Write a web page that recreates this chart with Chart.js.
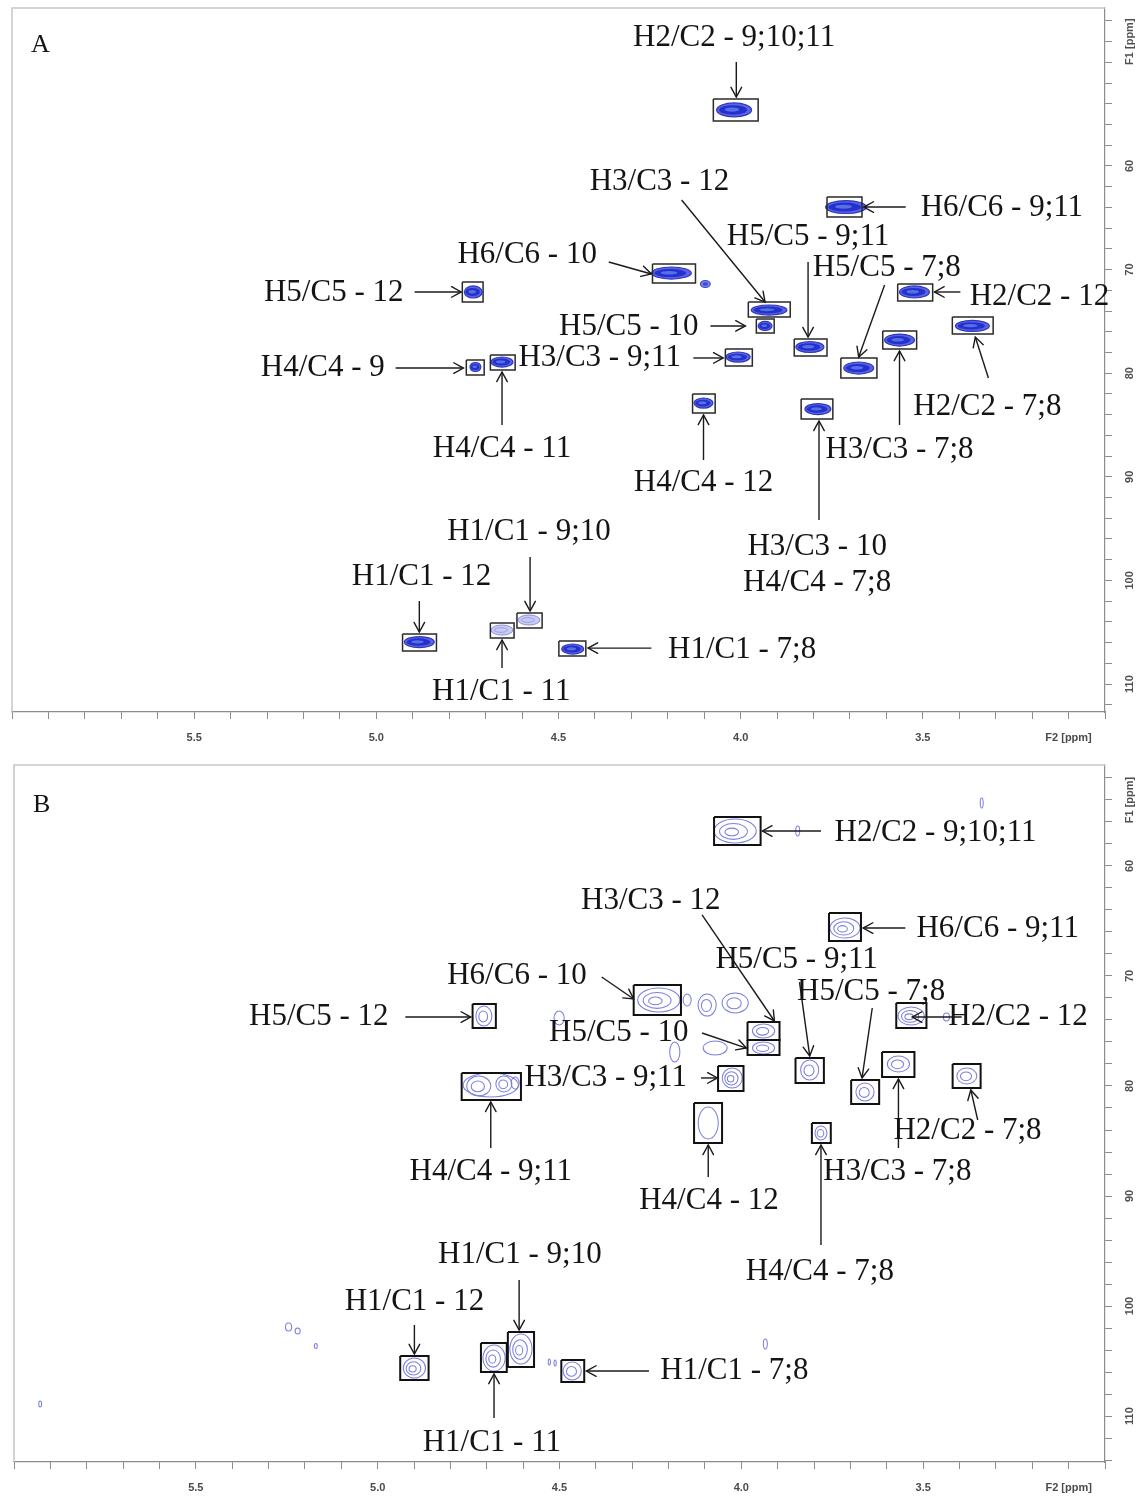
<!DOCTYPE html>
<html><head><meta charset="utf-8">
<script src="https://cdn.jsdelivr.net/npm/chart.js@4.4.1/dist/chart.umd.min.js"></script>
<style>
html,body{margin:0;padding:0;background:#fff;}
#wrap{position:relative;width:1144px;height:1506px;overflow:hidden;}
.panel{position:absolute;left:0;width:1144px;}
#pA{top:0;height:755px;}
#pB{top:755px;height:751px;}
</style></head><body>
<div id="wrap">
<div class="panel" id="pA"><canvas id="cA"></canvas></div>
<div class="panel" id="pB"><canvas id="cB"></canvas></div>
</div>
<script>
// ---------------- axis / tick data ----------------
const X_RANGE = [3.0, 6.0];
const X_TICK_VALUES = [5.5, 5.0, 4.5, 4.0, 3.5];
const X_TICK_TEXT = ['5.5', '5.0', '4.5', '4.0', '3.5'];
const X_UNIT_TICK = 3.1, X_UNIT_TEXT = 'F2 [ppm]';
const Y_TICK_VALUES = [60, 70, 80, 90, 100, 110];
const Y_UNIT_TEXT = 'F1 [ppm]';
const Y_RANGE_A = [44.75, 112.70], Y_UNIT_TICK_A = 48;
const Y_RANGE_B = [50.82, 114.18], Y_UNIT_TICK_B = 54;

// ---------------- panel A (cross peaks: 1H ppm, 13C ppm, widths in ppm, intensity) ----------------
const peakH_A = [4.018,3.711,3.922,4.190,4.097,4.734,3.523,3.933,3.364,3.564,3.810,3.676,4.728,4.655,4.007,4.102,3.788,4.581,4.882,4.655,4.461];
const peakC_A = [54.59,63.96,73.90,70.33,71.39,72.16,72.16,75.44,75.44,76.80,77.47,79.50,79.40,78.92,78.44,82.88,83.46,103.82,105.95,104.79,106.62];
const peakDH_A = [0.096,0.112,0.098,0.109,0.027,0.049,0.082,0.038,0.093,0.082,0.077,0.082,0.030,0.060,0.066,0.052,0.071,0.060,0.082,0.060,0.060];
const peakDC_A = [1.35,1.25,0.97,1.16,0.68,1.16,1.16,0.87,1.06,1.16,1.06,1.16,0.87,0.97,0.97,0.97,1.06,0.97,1.06,0.97,0.97];
const peakI_A = [1,1,1,1,0.6,1,1,0.8,1,1,1,1,0.8,0.8,1,0.9,0.9,0.35,1,0.35,1];
// boxes: [H left, H right, C top, C bottom]
const boxA = [
[4.075,3.952,53.53,55.66],[3.763,3.667,62.99,64.92],[3.979,3.864,73.13,74.58],[4.242,4.124,69.46,71.29],
[4.764,4.707,71.20,73.13],[3.569,3.473,71.39,73.03],[3.957,3.908,74.77,76.12],[3.419,3.307,74.58,76.22],
[3.610,3.517,75.93,77.66],[3.853,3.763,76.70,78.34],[3.725,3.626,78.53,80.46],[4.753,4.704,78.73,80.17],
[4.687,4.619,78.24,79.69],[4.042,3.968,77.66,79.31],[4.132,4.070,82.01,83.84],[3.834,3.747,82.49,84.42],
[4.614,4.545,103.15,104.59],[4.928,4.835,105.17,106.81],[4.687,4.622,104.11,105.56],[4.499,4.425,105.85,107.30]];
const labelTextA = ['H2/C2 - 9;10;11','H6/C6 - 9;11','H3/C3 - 12','H5/C5 - 9;11','H6/C6 - 10','H5/C5 - 12','H5/C5 - 7;8','H2/C2 - 12','H5/C5 - 10','H2/C2 - 7;8','H3/C3 - 7;8','H4/C4 - 9','H4/C4 - 11','H3/C3 - 9;11','H4/C4 - 12','H3/C3 - 10','H4/C4 - 7;8','H1/C1 - 9;10','H1/C1 - 12','H1/C1 - 11','H1/C1 - 7;8'];
const labelPosA = [[4.018,47.64],[3.283,64.05],[4.223,61.54],[3.815,66.85],[4.586,68.59],[5.117,72.26],[3.599,69.85],[3.180,72.64],[4.307,75.54],[3.323,83.26],[3.564,87.41],[5.147,79.50],[4.655,87.32],[4.387,78.53],[4.102,90.60],[3.790,96.78],[3.790,100.25],[4.581,95.33],[4.876,99.67],[4.657,110.77],[3.996,106.72]];
// arrows: [H from, C from, H to, C to]
const arrowA = [
[4.012,49.96,4.012,53.34],[3.547,63.96,3.662,63.96],[4.162,63.28,3.933,73.13],[3.815,69.27,3.815,76.51],
[4.362,69.27,4.245,70.42],[4.895,72.16,4.767,72.16],[3.605,71.49,3.676,78.44],[3.397,72.16,3.468,72.16],
[4.083,75.44,3.987,75.44],[3.320,80.46,3.356,76.51],[3.564,85.00,3.564,77.86],[4.947,79.50,4.761,79.50],
[4.655,85.00,4.655,79.88],[4.130,78.53,4.048,78.53],[4.102,88.38,4.102,84.03],[3.785,94.17,3.785,84.61],
[4.578,97.74,4.578,102.95],[4.882,101.99,4.882,104.98],[4.655,108.46,4.655,105.75],[4.245,106.53,4.419,106.53]];

// ---------------- panel B (contour peaks: 1H ppm, 13C ppm, widths in ppm, contour levels) ----------------
const peakH_B = [4.017,3.715,4.227,4.708,3.533,3.939,3.939,4.025,4.689,4.722,4.653,4.622,3.812,3.660,3.568,3.380,4.091,3.781,4.606,4.899,4.680,4.465,
 3.845,3.339,4.149,4.094,4.017,4.501,4.183,4.072,5.245,5.220,5.170,4.528,4.512,5.928,3.934,3.436];
const peakC_B = [56.82,65.64,72.18,73.64,73.64,75.00,76.55,79.27,79.91,80.00,79.82,79.73,78.55,80.55,78.00,79.09,83.36,84.27,103.91,105.64,104.73,105.91,
 56.82,54.27,72.18,72.64,72.45,73.82,76.91,76.55,101.91,102.27,103.64,105.09,105.18,108.91,103.45,73.73];
const peakDH_B = [0.116,0.083,0.116,0.044,0.072,0.061,0.061,0.055,0.152,0.066,0.044,0.022,0.050,0.050,0.061,0.055,0.055,0.033,0.061,0.061,0.061,0.050,
 0.011,0.008,0.022,0.050,0.072,0.028,0.028,0.066,0.017,0.014,0.008,0.006,0.006,0.008,0.011,0.017];
const peakDC_B = [2.18,1.82,2.18,1.82,1.64,1.27,1.09,1.82,2.18,1.80,1.45,1.09,1.82,1.64,1.45,1.45,2.90,1.27,2.73,1.82,2.36,1.64,
 0.90,0.90,1.09,2.00,1.82,1.27,1.82,1.27,0.73,0.55,0.45,0.55,0.55,0.55,0.90,0.73];
const peakLv_B = [3,3,3,2,3,2,2,3,1,2,2,1,2,2,2,2,1,2,3,3,3,2, 1,1,1,2,2,1,1,1,1,1,1,1,1,1,1,1];
const boxB = [
[4.075,3.947,55.55,58.09],[3.759,3.671,64.27,66.82],[4.296,4.166,70.82,73.55],[4.739,4.675,72.55,74.73],
[3.574,3.491,72.45,74.73],[3.983,3.895,74.18,75.82],[3.983,3.895,75.82,77.18],[4.064,3.994,78.18,80.45],
[4.769,4.606,78.82,81.27],[3.851,3.773,77.45,79.73],[3.698,3.621,79.45,81.64],[3.613,3.524,76.91,79.18],
[3.419,3.342,78.00,80.18],[4.130,4.053,81.55,85.18],[3.806,3.754,83.36,85.18],[4.642,4.570,102.36,105.55],
[4.938,4.860,104.55,106.73],[4.716,4.645,103.36,106.00],[4.495,4.432,104.91,106.91]];
const labelTextB = ['H2/C2 - 9;10;11','H3/C3 - 12','H6/C6 - 9;11','H5/C5 - 9;11','H5/C5 - 7;8','H6/C6 - 10','H5/C5 - 12','H2/C2 - 12','H5/C5 - 10','H3/C3 - 9;11','H4/C4 - 9;11','H3/C3 - 7;8','H2/C2 - 7;8','H4/C4 - 12','H4/C4 - 7;8','H1/C1 - 9;10','H1/C1 - 12','H1/C1 - 11','H1/C1 - 7;8'];
const labelPosB = [[3.466,57.00],[4.249,63.18],[3.295,65.73],[3.848,68.55],[3.643,71.45],[4.617,70.00],[5.162,73.73],[3.239,73.73],[4.337,75.18],[4.373,79.27],[4.689,87.82],[3.571,87.82],[3.378,84.09],[4.089,90.45],[3.784,96.91],[4.609,95.36],[4.899,99.64],[4.686,112.45],[4.019,105.91]];
const arrowB = [
[3.781,56.82,3.942,56.82],[4.108,64.45,3.909,74.09],[3.549,65.64,3.665,65.64],[3.840,70.55,3.812,77.27],
[3.640,72.91,3.668,79.27],[4.384,70.09,4.296,72.09],[4.924,73.73,4.744,73.73],[3.394,73.73,3.530,73.73],
[4.108,75.18,3.986,76.55],[4.111,79.27,4.066,79.27],[4.689,85.64,4.689,81.45],[3.568,85.64,3.568,79.36],
[3.350,83.09,3.369,80.36],[4.091,88.27,4.091,85.36],[3.781,94.45,3.781,85.36],[4.611,97.64,4.611,102.18],
[4.899,101.73,4.899,104.36],[4.680,110.18,4.680,106.18],[4.254,105.91,4.426,105.91]];

// ---------------- drawing helpers ----------------
const SERIF = '"Liberation Serif", "Times New Roman", serif';
const SANS = '"Liberation Sans", Arial, sans-serif';

function ell(ctx, cx, cy, rx, ry) {
  ctx.beginPath(); ctx.ellipse(cx, cy, Math.max(rx, 0.6), Math.max(ry, 0.6), 0, 0, Math.PI * 2);
}

function buildPanel(canvasId, P) {
  const peakData = P.peakH.map((h, i) => ({x: h, y: P.peakC[i]}));
  const datasets = [{
    label: 'peaks', data: peakData, pointRadius: 0, pointHoverRadius: 0, showLine: false
  }];
  P.boxes.forEach(b => datasets.push({
    label: 'box', showLine: true, pointRadius: 0, borderColor: P.boxColor, borderWidth: P.boxWidth,
    borderJoinStyle: 'miter', tension: 0, fill: false, clip: false,
    data: [{x: b[0], y: b[2]}, {x: b[1], y: b[2]}, {x: b[1], y: b[3]}, {x: b[0], y: b[3]}, {x: b[0], y: b[2]}]
  }));
  P.arrows.forEach(a => datasets.push({
    label: 'arrow', showLine: true, pointRadius: 0, borderColor: '#1a1a1a', borderWidth: 1.4,
    tension: 0, fill: false, clip: false,
    data: [{x: a[0], y: a[1]}, {x: a[2], y: a[3]}]
  }));

  const overlay = {
    id: 'overlay' + canvasId,
    beforeDatasetsDraw(chart) {
      const ctx = chart.ctx, a = chart.chartArea, xs = chart.scales.x, ys = chart.scales.y;
      ctx.save();
      // frame (top / left)
      ctx.strokeStyle = '#c6c6c6'; ctx.lineWidth = 1.5;
      ctx.beginPath(); ctx.moveTo(a.left, a.bottom); ctx.lineTo(a.left, a.top); ctx.lineTo(a.right, a.top); ctx.stroke();
      // peaks
      ctx.beginPath(); ctx.rect(a.left, a.top, a.right - a.left, a.bottom - a.top); ctx.clip();
      const meta = chart.getDatasetMeta(0);
      meta.data.forEach((pt, i) => {
        const cx = pt.x, cy = pt.y;
        const rx = Math.abs(xs.getPixelForValue(P.peakH[i] + P.peakDH[i] / 2) - xs.getPixelForValue(P.peakH[i] - P.peakDH[i] / 2)) / 2;
        const ry = Math.abs(ys.getPixelForValue(P.peakC[i] + P.peakDC[i] / 2) - ys.getPixelForValue(P.peakC[i] - P.peakDC[i] / 2)) / 2;
        if (P.style === 'filled') {
          const inten = P.peakI[i];
          if (inten >= 0.7) {
            ell(ctx, cx, cy, rx, ry); ctx.fillStyle = '#5b63df'; ctx.fill();
            ctx.lineWidth = 1.2; ctx.strokeStyle = '#2f38c2'; ctx.stroke();
            ell(ctx, cx - rx * 0.06, cy, rx * 0.8, ry * 0.68); ctx.fillStyle = '#2332cc'; ctx.fill();
            ell(ctx, cx - rx * 0.12, cy - ry * 0.05, rx * 0.42, ry * 0.3); ctx.fillStyle = '#5a6fe6'; ctx.fill();
          } else if (inten >= 0.5) {
            ell(ctx, cx, cy, rx, ry); ctx.fillStyle = '#7a82e6'; ctx.fill();
            ctx.lineWidth = 1.1; ctx.strokeStyle = '#3f48c8'; ctx.stroke();
            ell(ctx, cx, cy, rx * 0.55, ry * 0.5); ctx.fillStyle = '#3b48d2'; ctx.fill();
          } else {
            ell(ctx, cx, cy, rx, ry); ctx.fillStyle = '#c9ccf3'; ctx.fill();
            ctx.lineWidth = 1; ctx.strokeStyle = '#8a90dc'; ctx.stroke();
            ell(ctx, cx - rx * 0.1, cy, rx * 0.6, ry * 0.45); ctx.strokeStyle = '#9aa0e4'; ctx.stroke();
          }
        } else {
          const lv = P.peakLv[i];
          ctx.strokeStyle = '#7c80e0'; ctx.lineWidth = 1.05;
          for (let k = 0; k < lv; k++) {
            const f = lv === 1 ? 1 : 1 - k * (lv === 2 ? 0.45 : 0.34);
            ell(ctx, cx - rx * 0.08 * k, cy + ry * 0.04 * k, rx * f, ry * f); ctx.stroke();
          }
        }
      });
      ctx.restore();
    },
    afterDraw(chart) {
      const ctx = chart.ctx, a = chart.chartArea, xs = chart.scales.x, ys = chart.scales.y;
      const px = v => xs.getPixelForValue(v), py = v => ys.getPixelForValue(v);
      ctx.save();
      // arrow heads
      ctx.strokeStyle = '#1a1a1a'; ctx.lineWidth = 1.4; ctx.lineCap = 'round';
      P.arrows.forEach(r => {
        const x1 = px(r[0]), y1 = py(r[1]), x2 = px(r[2]), y2 = py(r[3]);
        const ang = Math.atan2(y2 - y1, x2 - x1), L = 11, w = 0.5;
        ctx.beginPath();
        ctx.moveTo(x2 - L * Math.cos(ang - w), y2 - L * Math.sin(ang - w));
        ctx.lineTo(x2, y2);
        ctx.lineTo(x2 - L * Math.cos(ang + w), y2 - L * Math.sin(ang + w));
        ctx.stroke();
      });
      // annotation labels
      ctx.fillStyle = '#141414'; ctx.font = '31px ' + SERIF;
      ctx.textAlign = 'center'; ctx.textBaseline = 'middle';
      P.labelText.forEach((t, i) => ctx.fillText(t, px(P.labelPos[i][0]), py(P.labelPos[i][1])));
      // y tick labels (rotated, Bruker style)
      ctx.fillStyle = '#505050'; ctx.font = 'bold 11px ' + SANS;
      const ylab = Y_TICK_VALUES.map(v => [v, String(v)]).concat([[P.yUnitTick, Y_UNIT_TEXT]]);
      ylab.forEach(([v, t]) => {
        ctx.save(); ctx.translate(a.right + 25, py(v)); ctx.rotate(-Math.PI / 2);
        ctx.textAlign = 'center'; ctx.textBaseline = 'middle'; ctx.fillText(t, 0, 0); ctx.restore();
      });
      // panel letter
      ctx.fillStyle = '#141414'; ctx.font = '26px ' + SERIF; ctx.textAlign = 'left'; ctx.textBaseline = 'alphabetic';
      ctx.fillText(P.letter, a.left + 19, a.top + P.letterDy);
      ctx.restore();
    }
  };

  return new Chart(document.getElementById(canvasId), {
    type: 'scatter',
    data: {datasets},
    options: {
      responsive: true, maintainAspectRatio: false, animation: false, events: [],
      layout: {padding: {left: P.padL, top: P.padT, right: 0, bottom: 0}},
      plugins: {legend: {display: false}, tooltip: {enabled: false}},
      scales: {
        x: {
          type: 'linear', reverse: true, min: X_RANGE[0], max: X_RANGE[1], position: 'bottom',
          afterFit(s) { s.height = P.xAxisH; },
          grid: {drawOnChartArea: false, drawTicks: true, tickLength: 7, color: '#8c8c8c', lineWidth: 1},
          border: {display: true, color: '#8c8c8c', width: 1.2},
          ticks: {
            stepSize: 0.1, autoSkip: false, maxRotation: 0, minRotation: 0, padding: 12,
            color: '#4a4a4a', font: {family: SANS, size: 11, weight: 'bold'},
            callback(v) {
              const t = Math.round(v * 10);
              if (t === Math.round(X_UNIT_TICK * 10)) return X_UNIT_TEXT;
              const i = X_TICK_VALUES.findIndex(q => Math.round(q * 10) === t);
              return i >= 0 ? X_TICK_TEXT[i] : '';
            }
          }
        },
        y: {
          type: 'linear', reverse: true, min: P.yRange[0], max: P.yRange[1], position: 'right',
          afterFit(s) { s.width = P.yAxisW; },
          grid: {drawOnChartArea: false, drawTicks: true, tickLength: 7, color: '#8c8c8c', lineWidth: 1},
          border: {display: true, color: '#8c8c8c', width: 1.2},
          ticks: {stepSize: 2, includeBounds: false, display: false}
        }
      }
    },
    plugins: [overlay]
  });
}

buildPanel('cA', {
  letter: 'A', letterDy: 44, style: 'filled',
  peakH: peakH_A, peakC: peakC_A, peakDH: peakDH_A, peakDC: peakDC_A, peakI: peakI_A,
  boxes: boxA, labelText: labelTextA, labelPos: labelPosA, arrows: arrowA,
  yRange: Y_RANGE_A, yUnitTick: Y_UNIT_TICK_A,
  boxColor: '#2a2a2a', boxWidth: 1.5,
  padL: 8, padT: 8, xAxisH: 755 - 712, yAxisW: 1144 - 1105
});
buildPanel('cB', {
  letter: 'B', letterDy: 47, style: 'contour',
  peakH: peakH_B, peakC: peakC_B, peakDH: peakDH_B, peakDC: peakDC_B, peakLv: peakLv_B,
  boxes: boxB, labelText: labelTextB, labelPos: labelPosB, arrows: arrowB,
  yRange: Y_RANGE_B, yUnitTick: Y_UNIT_TICK_B,
  boxColor: '#111111', boxWidth: 2,
  padL: 14, padT: 10, xAxisH: 751 - 707, yAxisW: 1144 - 1105
});
</script>
</body></html>
